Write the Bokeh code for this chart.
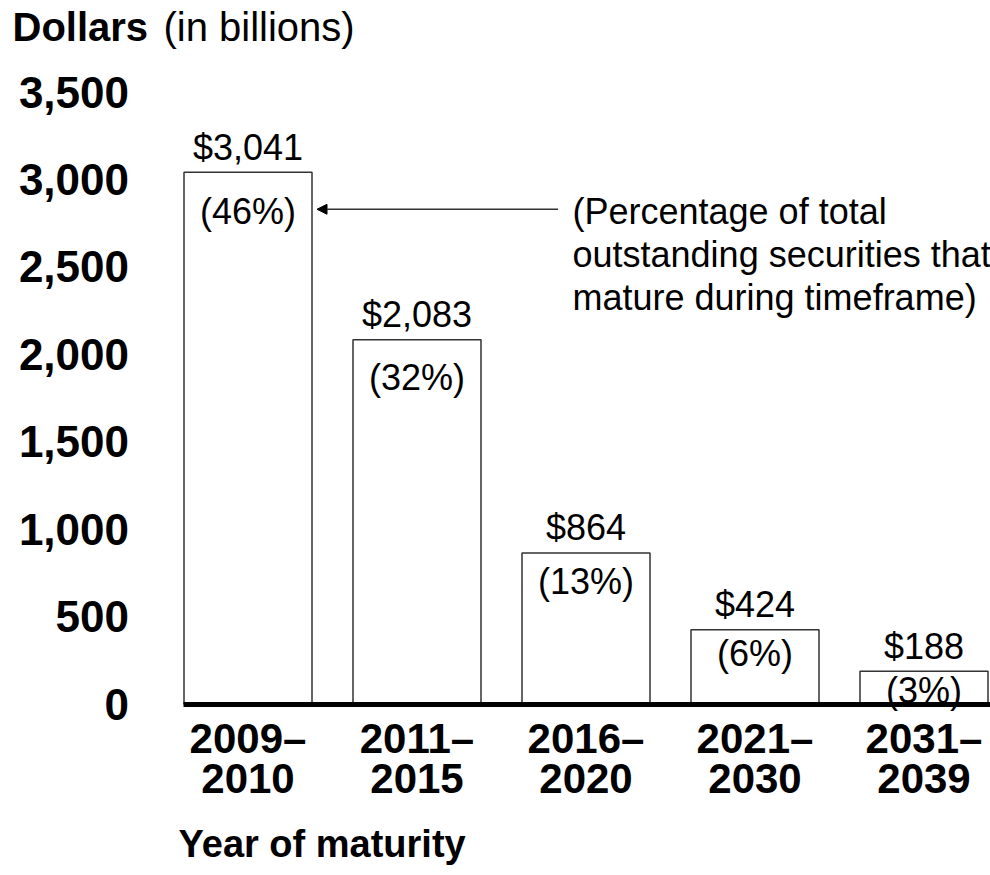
from bokeh.plotting import figure
from bokeh.models import (ColumnDataSource, LabelSet, Label, Arrow, NormalHead,
                          FixedTicker, NumeralTickFormatter, Range1d)
from bokeh.core.properties import value
from bokeh.embed import file_html
from bokeh.resources import INLINE

# ---- data ----
periods = ["2009–\n2010", "2011–\n2015", "2016–\n2020", "2021–\n2030", "2031–\n2039"]
amounts = [3041, 2083, 864, 424, 188]          # dollars in billions
shares = [46, 32, 13, 6, 3]                    # percent of total outstanding
y_ticks = [0, 500, 1000, 1500, 2000, 2500, 3000, 3500]
note = "(Percentage of total\noutstanding securities that\nmature during timeframe)"

# ---- layout / style constants (pixels) ----
FONT = "Liberation Sans"
W, H = 990, 875
STEP_PX = 169.0            # distance between bar centres
FIRST_PX = 247.5           # x pixel of first bar centre
BASE_PX = 703.5            # y pixel of the zero line
PX = 612.0 / 3500          # pixels per billion dollars
BAR_W = 128 / STEP_PX      # bar width in category units
VALUE_GAP = 25             # px from bar top up to the dollar label
PCT_GAP = [-39, -38, -29, -24, -19]   # px from bar top down to the share label


def x_at(px):
    return (px - FIRST_PX) / STEP_PX


def y_at(py):
    return (BASE_PX - py) / PX


x = list(range(len(periods)))

p = figure(width=W, height=H, output_backend="svg", toolbar_location=None,
           title=None, x_range=Range1d(x_at(0), x_at(W)), y_range=Range1d(y_at(H), y_at(0)),
           min_border=0, min_border_left=0, min_border_right=0,
           min_border_top=0, min_border_bottom=0)
p.outline_line_color = None
p.grid.visible = False
p.background_fill_color = "white"
p.border_fill_color = "white"

src = ColumnDataSource(dict(
    x=x, top=amounts,
    amt=[f"${a:,}" for a in amounts],
    pct=[f"({s}%)" for s in shares],
    pct_off=PCT_GAP,
))

p.vbar(x="x", top="top", bottom=0, width=BAR_W, source=src,
       fill_color="white", line_color="#333333", line_width=1.5)

# y axis, drawn at the left edge of the first bar
ya = p.yaxis[0]
ya.fixed_location = -BAR_W / 2
ya.ticker = FixedTicker(ticks=y_ticks)
ya.formatter = NumeralTickFormatter(format="0,0")
ya.axis_line_color = None
ya.major_tick_line_color = None
ya.minor_tick_line_color = None
ya.major_label_standoff = 49
ya.major_label_text_font = FONT
ya.major_label_text_font_style = "bold"
ya.major_label_text_font_size = "44px"
ya.major_label_text_color = "black"

# x axis = thick zero line
xa = p.xaxis[0]
xa.fixed_location = 0
xa.bounds = (-BAR_W / 2 - 0.5 / STEP_PX, x_at(W))
xa.ticker = FixedTicker(ticks=x)
xa.major_label_overrides = {i: lab for i, lab in zip(x, periods)}
xa.axis_line_width = 5
xa.axis_line_color = "black"
xa.major_tick_line_color = None
xa.minor_tick_line_color = None
xa.major_label_standoff = 5
xa.major_label_text_font = FONT
xa.major_label_text_font_style = "bold"
xa.major_label_text_font_size = "42px"
xa.major_label_text_line_height = 0.86
xa.major_label_text_color = "black"

# value and share labels
p.add_layout(LabelSet(x="x", y="top", text="amt", source=src, y_offset=VALUE_GAP,
                      text_align="center", text_baseline="middle",
                      text_font=value(FONT), text_font_size=value("36px"),
                      text_color="black"))
p.add_layout(LabelSet(x="x", y="top", text="pct", source=src, y_offset="pct_off",
                      text_align="center", text_baseline="middle",
                      text_font=value(FONT), text_font_size=value("36px"),
                      text_color="black"))

# annotation arrow + note
arrow_y = amounts[0] - 37 / PX
arrow_x_end = x[0] + BAR_W / 2 + 5 / STEP_PX
arrow_x_start = arrow_x_end + 241 / STEP_PX
p.add_layout(Arrow(end=NormalHead(size=10, fill_color="black", line_color="black"),
                   start=None, x_start=arrow_x_start, y_start=arrow_y,
                   x_end=arrow_x_end, y_end=arrow_y,
                   line_color="#333333", line_width=1.5))
p.add_layout(Label(x=arrow_x_start + 14.5 / STEP_PX, y=arrow_y - 45 / PX, text=note,
                   text_align="left", text_baseline="middle", text_line_height=1.05,
                   text_font=FONT, text_font_size="36px", text_color="black"))

# axis titles
p.add_layout(Label(x=x_at(12), y=y_at(26), text="Dollars",
                   text_align="left", text_baseline="middle", text_font=FONT,
                   text_font_style="bold", text_font_size="40px", text_color="black"))
p.add_layout(Label(x=x_at(163), y=y_at(26), text="(in billions)",
                   text_align="left", text_baseline="middle", text_font=FONT,
                   text_font_size="40px", text_color="black"))
p.add_layout(Label(x=x_at(178), y=y_at(843), text="Year of maturity",
                   text_align="left", text_baseline="middle", text_font=FONT,
                   text_font_style="bold", text_font_size="38px", text_color="black"))

open("out.html", "w").write(file_html(p, INLINE))
